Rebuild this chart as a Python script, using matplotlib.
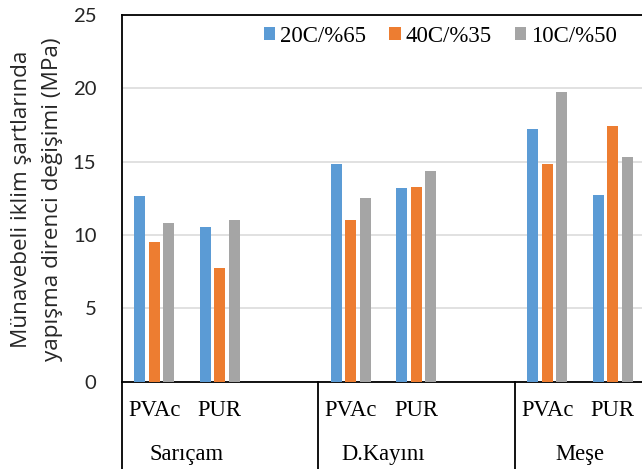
import numpy as np
import matplotlib
matplotlib.use("Agg")
import matplotlib.pyplot as plt
from matplotlib.patches import Patch

# data
woods = ["Sarıçam", "D.Kayını", "Meşe"]
adhesives = ["PVAc", "PUR"]
series = ["20C/%65", "40C/%35", "10C/%50"]
colors = ["#5B9BD5", "#ED7D31", "#A5A5A5"]

# rows: Sarıçam PVAc, Sarıçam PUR, D.Kayını PVAc, D.Kayını PUR, Meşe PVAc, Meşe PUR
vals_20_65 = [12.66, 10.55, 14.83, 13.18, 17.25, 12.70]
vals_40_35 = [9.52, 7.73, 11.04, 13.27, 14.82, 17.43]
vals_10_50 = [10.82, 11.02, 12.54, 14.36, 19.75, 15.30]

yticks = [0, 5, 10, 15, 20, 25]

serif = "Liberation Serif"
sans = "Lato"

fig = plt.figure(figsize=(6.42, 4.69), dpi=100)
ax = fig.add_axes([121.5 / 642, 87.3 / 469, 524 / 642, 366.7 / 469])

# each wood takes 3 slots (last one empty), except the final one
slots = []
for wi, w in enumerate(woods):
    for ai, a in enumerate(adhesives):
        slots.append(wi * 3 + ai)
slots = np.array(slots)

bw, step = 0.173, 0.221
for k, (vals, c, lab) in enumerate(zip([vals_20_65, vals_40_35, vals_10_50], colors, series)):
    ax.bar(slots + (k - 1) * step, vals, width=bw, color=c, label=lab, zorder=3)

ax.set_xlim(-0.5, 7.5)
ax.set_ylim(0, 25)
ax.set_yticks(yticks)
ax.set_yticklabels([str(t) for t in yticks], fontsize=14.6, family=sans, color="#262626")
ax.tick_params(axis="y", length=0, pad=18)
ax.set_xticks([])
ax.grid(axis="y", color="#d9d9d9", lw=1.1, zorder=0)

for s in ["left", "bottom", "top"]:
    ax.spines[s].set_color("black")
    ax.spines[s].set_linewidth(1.3)
ax.spines["right"].set_visible(False)

# multi-level category axis
trans = ax.get_xaxis_transform()
for xs in [-0.5, 2.5, 5.5]:
    ax.plot([xs, xs], [0, -0.26], color="black", lw=1.3, transform=trans, clip_on=False)
for wi, w in enumerate(woods):
    for ai, a in enumerate(adhesives):
        ax.text(wi * 3 + ai, -0.093, a, transform=trans, ha="center", va="baseline",
                fontsize=16.3, family=serif)
    ax.text(wi * 3 + 0.5, -0.2135, w, transform=trans, ha="center", va="baseline",
            fontsize=16.3, family=serif)

handles = [Patch(facecolor=c) for c in colors]
ax.legend(handles, series, loc="center left", bbox_to_anchor=(0.25, 0.9427), ncol=3,
          frameon=False, prop={"family": serif, "size": 16.5}, borderpad=0,
          handlelength=0.5, handleheight=0.5, handletextpad=0.22, columnspacing=1.0)

fig.text(37 / 642, 0.5746, "Münavebeli iklim şartlarında\nyapışma direnci değişimi (MPa)",
         rotation=90, ha="center", va="center", multialignment="center",
         fontsize=16.2, family="Open Sans", linespacing=1.65, color="#262626")

fig.savefig("out.png", dpi=100)
